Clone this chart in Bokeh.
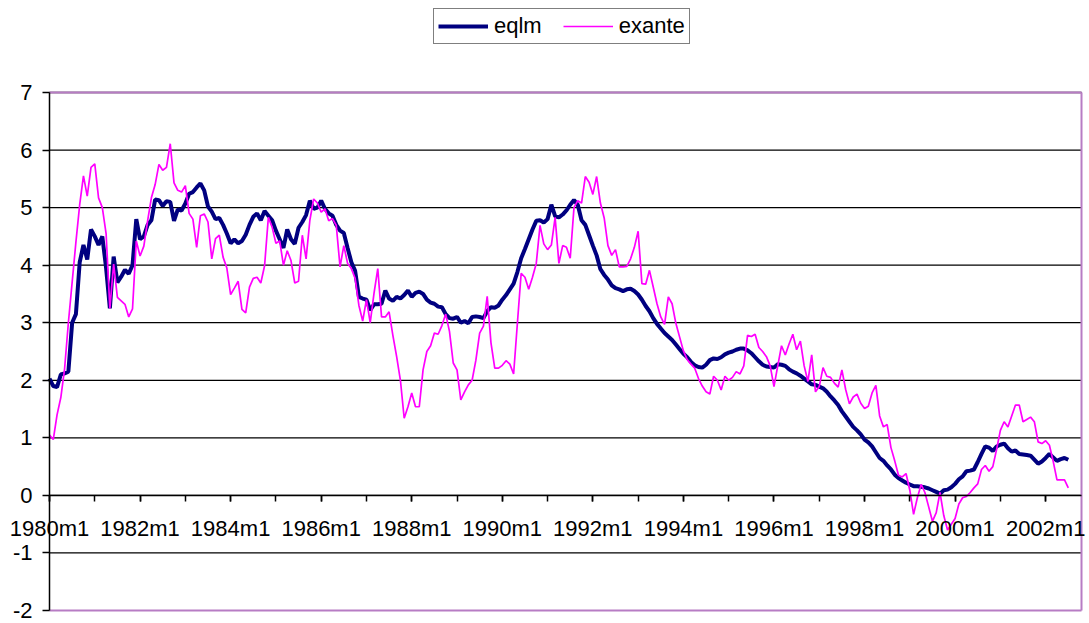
from bokeh.plotting import figure
from bokeh.models import Range1d, FixedTicker, Legend, LegendItem
from bokeh.embed import file_html
from bokeh.resources import INLINE

# Category labels shown on the x axis (every 24 months, starting 1980m1)
TICK_LABELS = ["1980m1", "1982m1", "1984m1", "1986m1", "1988m1", "1990m1",
               "1992m1", "1994m1", "1996m1", "1998m1", "2000m1", "2002m1"]
Y_TICKS = list(range(-2, 8))

EQLM = [
    2.03, 1.9, 1.88, 2.1, 2.12, 2.15, 3.0, 3.15, 4.05, 4.35, 4.1, 4.62,
    4.5, 4.35, 4.5, 3.95, 3.25, 4.15, 3.7, 3.8, 3.92, 3.85, 4.0, 4.8,
    4.45, 4.5, 4.7, 4.78, 5.14, 5.13, 5.03, 5.11, 5.1, 4.77, 4.97, 4.95,
    5.07, 5.24, 5.27, 5.35, 5.42, 5.3, 5.02, 4.93, 4.8, 4.82, 4.7, 4.55,
    4.38, 4.45, 4.38, 4.42, 4.53, 4.7, 4.84, 4.9, 4.78, 4.94, 4.86, 4.78,
    4.6, 4.45, 4.3, 4.62, 4.45, 4.37, 4.65, 4.75, 4.87, 5.12, 4.98, 5.0,
    5.12, 4.98, 4.9, 4.86, 4.7, 4.6, 4.56, 4.3, 4.05, 3.9, 3.45, 3.42,
    3.4, 3.22, 3.32, 3.32, 3.33, 3.56, 3.42, 3.38, 3.45, 3.42, 3.48, 3.56,
    3.45, 3.52, 3.54, 3.5, 3.4, 3.35, 3.33, 3.28, 3.27, 3.15, 3.08, 3.07,
    3.1, 3.0, 3.03, 2.99, 3.1, 3.11, 3.1, 3.08, 3.2, 3.27, 3.26, 3.3,
    3.4, 3.48, 3.58, 3.68, 3.88, 4.12, 4.28, 4.45, 4.62, 4.77, 4.78, 4.74,
    4.8, 5.05, 4.85, 4.83, 4.88, 4.95, 5.05, 5.13, 5.05, 4.78, 4.7, 4.52,
    4.34, 4.17, 3.93, 3.83, 3.75, 3.65, 3.6, 3.58, 3.55, 3.58, 3.59, 3.55,
    3.49, 3.4, 3.29, 3.2, 3.08, 2.98, 2.9, 2.82, 2.76, 2.7, 2.62, 2.54,
    2.46, 2.4, 2.32, 2.26, 2.23, 2.22, 2.27, 2.35, 2.38, 2.37, 2.4, 2.45,
    2.48, 2.5, 2.53, 2.55, 2.55, 2.52, 2.47, 2.4, 2.33, 2.27, 2.24, 2.23,
    2.22, 2.28, 2.27, 2.25, 2.19, 2.15, 2.12, 2.08, 2.03, 1.98, 1.93, 1.92,
    1.89, 1.86, 1.8, 1.72, 1.65, 1.57, 1.46, 1.37, 1.28, 1.19, 1.13, 1.06,
    0.97, 0.92, 0.85, 0.75, 0.65, 0.6, 0.52, 0.45, 0.36, 0.3, 0.26, 0.22,
    0.19, 0.16, 0.16, 0.15, 0.14, 0.12, 0.09, 0.06, 0.03, 0.09, 0.1, 0.14,
    0.2, 0.28, 0.33, 0.42, 0.43, 0.45, 0.58, 0.72, 0.85, 0.83, 0.77, 0.85,
    0.88, 0.9, 0.82, 0.76, 0.78, 0.72, 0.71, 0.7, 0.69, 0.62, 0.55, 0.59,
    0.65, 0.72, 0.66, 0.6, 0.63, 0.65, 0.62,
]

EXANTE = [
    1.05, 0.97, 1.4, 1.7, 2.2, 3.0, 3.7, 4.4, 5.05, 5.55, 5.2, 5.7,
    5.76, 5.17, 5.0, 4.55, 3.25, 4.02, 3.44, 3.38, 3.32, 3.1, 3.24, 4.42,
    4.16, 4.33, 4.77, 5.17, 5.4, 5.75, 5.65, 5.7, 6.11, 5.43, 5.3, 5.27,
    5.38, 4.9, 4.8, 4.31, 4.86, 4.89, 4.75, 4.11, 4.46, 4.52, 4.14, 3.95,
    3.49, 3.6, 3.72, 3.23, 3.17, 3.62, 3.77, 3.79, 3.69, 3.99, 4.83, 4.66,
    4.38, 4.42, 4.0, 4.25, 4.08, 3.69, 3.72, 4.52, 4.11, 4.78, 5.15, 5.08,
    4.92, 4.98, 4.77, 4.81, 4.69, 3.97, 4.34, 4.03, 3.94, 3.77, 3.3, 3.03,
    3.4, 3.0, 3.51, 3.94, 3.1, 3.1, 3.19, 2.78, 2.41, 2.0, 1.34, 1.54,
    1.78, 1.54, 1.54, 2.18, 2.5, 2.6, 2.82, 2.8, 2.95, 3.15, 2.85, 2.3,
    2.18, 1.66, 1.8, 1.92, 2.0, 2.35, 2.82, 2.94, 3.46, 2.65, 2.21, 2.21,
    2.26, 2.34, 2.28, 2.11, 2.99, 3.86, 3.79, 3.58, 3.79, 4.03, 4.69, 4.37,
    4.27, 4.35, 4.83, 4.03, 4.34, 4.31, 4.12, 5.0, 5.12, 5.08, 5.54, 5.44,
    5.23, 5.54, 5.08, 4.82, 4.34, 4.17, 4.27, 3.97, 3.97, 3.98, 4.11, 4.31,
    4.59, 3.68, 3.67, 3.91, 3.62, 3.33, 3.1, 2.97, 3.45, 3.33, 2.99, 2.75,
    2.51, 2.36, 2.28, 2.21, 2.03, 1.9, 1.8, 1.76, 2.07, 2.0, 1.83, 2.07,
    2.0, 2.05, 2.15, 2.11, 2.25, 2.78, 2.76, 2.8, 2.57, 2.5, 2.41, 2.25,
    1.89, 2.25, 2.6, 2.44, 2.63, 2.8, 2.53, 2.68, 2.25, 1.98, 2.44, 1.8,
    1.89, 2.22, 2.07, 2.05, 1.95, 1.88, 2.18, 1.84, 1.59, 1.71, 1.76, 1.6,
    1.51, 1.55, 1.78, 1.91, 1.38, 1.19, 1.23, 0.83, 0.6, 0.35, 0.32, 0.38,
    0.09, -0.33, -0.04, 0.19, 0.05, -0.2, -0.45, -0.3, 0.05, -0.35, -0.6, -0.5,
    -0.4, -0.15, -0.04, -0.02, 0.05, 0.13, 0.2, 0.45, 0.52, 0.42, 0.5, 0.8,
    1.13, 1.28, 1.19, 1.38, 1.57, 1.57, 1.28, 1.32, 1.36, 1.28, 0.93, 0.9,
    0.95, 0.87, 0.59, 0.27, 0.27, 0.27, 0.13,
]

FONT = "Liberation Sans"
FS = "22px"

# ---- layout constants (pixels inside the figure) ----
W, H = 1089, 623
PX_LEFT, PX_RIGHT = 49, 1081      # x = 0 and right plot edge
PX_TOP, PX_BOTTOM = 92, 610       # y = 7 and y = -2
X_END = 273.5                     # right edge of the category axis
Y_MIN, Y_MAX = Y_TICKS[0], Y_TICKS[-1]

sx = (PX_RIGHT - PX_LEFT) / X_END
sy = (PX_BOTTOM - PX_TOP) / (Y_MAX - Y_MIN)
x_range = Range1d(-PX_LEFT / sx, X_END + (W - PX_RIGHT) / sx)
y_range = Range1d(Y_MIN - (H - PX_BOTTOM) / sy, Y_MAX + PX_TOP / sy)

months = list(range(len(EQLM)))
label_ticks = [24 * i for i in range(len(TICK_LABELS))]
minor_ticks = [12 * i for i in range(2 * len(TICK_LABELS))]

p = figure(width=W, height=H, output_backend="svg", toolbar_location=None,
           x_range=x_range, y_range=y_range,
           min_border_left=0, min_border_right=0, min_border_top=0,
           min_border_bottom=0)
p.background_fill_color = "white"
p.border_fill_color = "white"
p.outline_line_color = None
p.xgrid.visible = False
p.ygrid.visible = False

# horizontal gridlines (drawn under the data)
grid_vals = [v for v in Y_TICKS if v > Y_MIN]
p.segment(x0=[0] * len(grid_vals), x1=[X_END] * len(grid_vals),
          y0=grid_vals, y1=grid_vals, line_color="black", line_width=1.3)

# plot-area border (top, bottom, right)
BORDER = "#B77CC4"
p.segment(x0=[0, 0, X_END], x1=[X_END, X_END, X_END],
          y0=[Y_MAX, Y_MIN, Y_MIN], y1=[Y_MAX, Y_MIN, Y_MAX],
          line_color=BORDER, line_width=2)

# y axis at x = 0
p.yaxis.fixed_location = 0
p.yaxis.bounds = (Y_MIN, Y_MAX)
p.yaxis.ticker = FixedTicker(ticks=Y_TICKS)
p.yaxis.major_label_overrides = {v: str(v) for v in Y_TICKS}
p.yaxis.minor_tick_line_color = None
p.yaxis.major_tick_in = 0
p.yaxis.major_tick_out = 7
p.yaxis.major_tick_line_color = "black"
p.yaxis.major_tick_line_width = 1.5
p.yaxis.axis_line_color = "black"
p.yaxis.axis_line_width = 1.5
p.yaxis.major_label_text_font = FONT
p.yaxis.major_label_text_font_size = FS
p.yaxis.major_label_text_color = "black"
p.yaxis.major_label_standoff = 10

# x axis crossing at zero
p.xaxis.fixed_location = 0
p.xaxis.bounds = (0, X_END)
p.xaxis.ticker = FixedTicker(ticks=label_ticks, minor_ticks=minor_ticks)
p.xaxis.major_label_overrides = {t: lab for t, lab in zip(label_ticks, TICK_LABELS)}
p.xaxis.major_tick_in = 0
p.xaxis.major_tick_out = 6
p.xaxis.minor_tick_in = 0
p.xaxis.minor_tick_out = 6
p.xaxis.major_tick_line_color = "black"
p.xaxis.minor_tick_line_color = "black"
p.xaxis.major_tick_line_width = 1.5
p.xaxis.minor_tick_line_width = 1.5
p.xaxis.axis_line_color = "black"
p.xaxis.axis_line_width = 1.5
p.xaxis.major_label_text_font = FONT
p.xaxis.major_label_text_font_size = FS
p.xaxis.major_label_text_color = "black"
p.xaxis.major_label_standoff = 15

r1 = p.line(months, EQLM, line_color="#000080", line_width=4)
r2 = p.line(months, EXANTE, line_color="#FF00FF", line_width=1.7)

LEG_LEFT, LEG_TOP, LEG_H = 433, 11, 33
legend = Legend(
    items=[LegendItem(label="eqlm", renderers=[r1]),
           LegendItem(label="exante", renderers=[r2])],
    location=(LEG_LEFT, H - LEG_TOP - LEG_H), orientation="horizontal",
    border_line_color="black", border_line_width=1.5,
    background_fill_color="white", background_fill_alpha=1.0,
    padding=4, spacing=21, margin=0,
    glyph_width=50, glyph_height=16, label_height=25, label_standoff=6,
    label_text_font=FONT, label_text_font_size=FS, label_text_color="black",
)
p.add_layout(legend, "center")

open("out.html", "w").write(file_html(p, INLINE))
